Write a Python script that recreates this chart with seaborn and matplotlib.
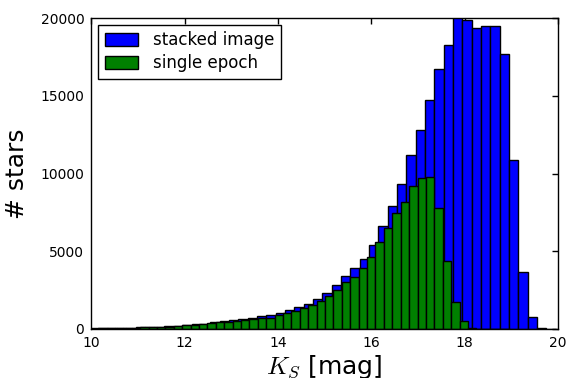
import numpy as np
import pandas as pd
import matplotlib
matplotlib.use("Agg")
import matplotlib.pyplot as plt
from matplotlib.patches import Patch
import seaborn as sns

# stacked image histogram: 50 bins of 0.2 mag starting at 9.95
stacked_start = 9.95
stacked_width = 0.2
stacked_counts = [30, 40, 50, 60, 70, 90, 110, 130, 160, 190,
                  250, 290, 340, 420, 490, 540, 620, 700, 800, 880,
                  1050, 1200, 1390, 1600, 1930, 2330, 2810, 3400, 3890, 4470,
                  5390, 6630, 7900, 9350, 11170, 12780, 14700, 16710, 18280, 20400,
                  19880, 19370, 19470, 19520, 17700, 10850, 3680, 750, 80, 0]

# single epoch histogram: 50 bins of 0.18 mag starting at 9.97
single_start = 9.97
single_width = 0.18
single_counts = [20, 30, 40, 50, 60, 70, 90, 110, 130, 150,
                 180, 230, 260, 320, 370, 420, 470, 520, 570, 620,
                 690, 730, 900, 1050, 1170, 1370, 1540, 1800, 2130, 2480,
                 2990, 3360, 3890, 4600, 5560, 6460, 7430, 8170, 9220, 9710,
                 9780, 7790, 4390, 1750, 530, 60, 0, 0, 0, 0]

labels = ["stacked image", "single epoch"]
colors = ["#0000ff", "#008000"]
xticks = [10, 12, 14, 16, 18, 20]
yticks = [0, 5000, 10000, 15000, 20000]

sns.set_style("white")
plt.rcParams["font.family"] = ["DejaVu Sans"]
plt.rcParams["mathtext.fontset"] = "cm"
plt.rcParams["text.color"] = "black"
plt.rcParams["axes.labelcolor"] = "black"
plt.rcParams["xtick.color"] = "black"
plt.rcParams["ytick.color"] = "black"

fig = plt.figure(figsize=(5.7, 3.78), dpi=100)
ax = fig.add_axes([0.16, 0.13, 0.819, 0.822])

for start, width, counts, color in [
    (stacked_start, stacked_width, stacked_counts, colors[0]),
    (single_start, single_width, single_counts, colors[1]),
]:
    n = len(counts)
    edges = [float(start + width * k) for k in range(n + 1)]
    centers = [(edges[k] + edges[k + 1]) / 2 for k in range(n)]
    df = pd.DataFrame({"mag": centers, "count": [float(c) for c in counts]})
    sns.histplot(data=df, x="mag", weights="count", bins=edges, color=color,
                 alpha=1, edgecolor="black", linewidth=1.0, ax=ax)

ax.set_xlim(10, 20)
ax.set_ylim(0, 20000)
ax.set_xticks(xticks)
ax.set_yticks(yticks)
ax.tick_params(direction="in", length=4, width=1, top=True, right=True,
               labelsize=10, pad=5, colors="black", labelcolor="black")
for s in ax.spines.values():
    s.set_color("black")
    s.set_linewidth(1)

ax.set_xlabel("$K_S$ [mag]", fontsize=18, labelpad=2, color="black")
ax.set_ylabel("# stars", fontsize=18, labelpad=8, color="black")

handles = [Patch(facecolor=c, edgecolor="black", linewidth=1) for c in colors]
leg = ax.legend(handles, labels, loc="upper left", fontsize=12, frameon=True,
                fancybox=False, edgecolor="black", framealpha=1,
                handlelength=2.0, handleheight=0.8, borderpad=0.4,
                labelspacing=0.3, borderaxespad=0.4, handletextpad=0.9,
                labelcolor="black")
leg.get_frame().set_linewidth(1)

fig.savefig("out.png", dpi=100, facecolor="white")
